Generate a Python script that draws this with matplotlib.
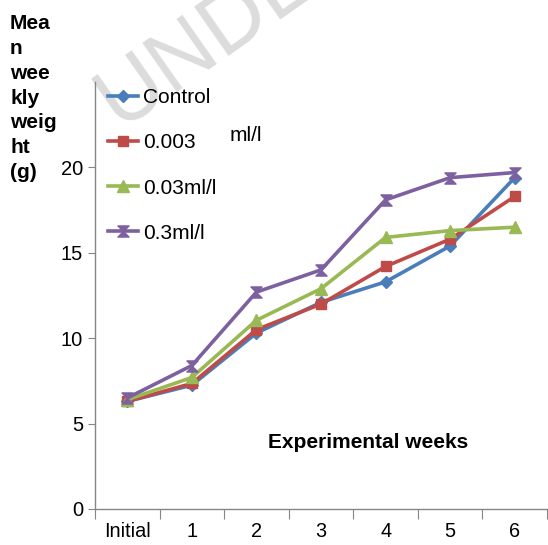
import matplotlib
matplotlib.use("Agg")
import matplotlib.pyplot as plt
from matplotlib.path import Path
import numpy as np

plt.rcParams['font.family'] = ['Liberation Sans', 'DejaVu Sans']

weeks = ["Initial", "1", "2", "3", "4", "5", "6"]
control = [6.3, 7.25, 10.3, 12.1, 13.3, 15.4, 19.4]
dose_0003 = [6.3, 7.35, 10.5, 12.0, 14.2, 15.8, 18.3]
dose_003 = [6.4, 7.7, 11.05, 12.9, 15.9, 16.3, 16.5]
dose_03 = [6.5, 8.4, 12.7, 14.0, 18.1, 19.4, 19.7]
labels = ["Control", "0.003", "0.03ml/l", "0.3ml/l"]
colors = ["#4A7EBB", "#BE4B48", "#98B954", "#7D60A0"]

hourglass = Path([(-1, 1), (1, 1), (0, 0), (1, -1), (-1, -1), (0, 0), (-1, 1)],
                 [Path.MOVETO, Path.LINETO, Path.LINETO, Path.LINETO, Path.LINETO,
                  Path.LINETO, Path.CLOSEPOLY])
markers = ["D", "s", "^", hourglass]
msizes = [6, 7.5, 8, 8]

W, H = 548, 545
fig = plt.figure(figsize=(W / 100, H / 100), dpi=100)

# watermark (behind everything)
fig.text(119 / W, 1 - 128 / H, "UNDER", rotation=35, rotation_mode="anchor",
         fontsize=63, color="#dcdcdc", ha="left", va="baseline", zorder=-5)

ax = fig.add_axes([95 / W, (H - 509) / H, (547 - 95) / W, (509 - 82) / H])
ax.patch.set_alpha(0)

x = np.arange(len(weeks))
series = [control, dose_0003, dose_003, dose_03]
for s, lab, c, m, ms in zip(series, labels, colors, markers, msizes):
    ax.plot(x, s, color=c, lw=2.6, marker=m, markersize=ms, label=lab,
            markerfacecolor=c, markeredgecolor=c, solid_joinstyle="round")

ax.set_xlim(-0.5, 6.5)
ax.set_ylim(0, 25)
ax.set_yticks([0, 5, 10, 15, 20])
ax.set_xticks(np.arange(-0.5, 7, 1))
ax.set_xticklabels([])
ax.set_xticks(x, minor=True)
ax.set_xticklabels(weeks, minor=True)
ax.tick_params(axis="x", which="minor", length=0, pad=9.5, labelsize=14.3)
ax.tick_params(axis="x", which="major", length=7, color="#868686", direction="out")
ax.tick_params(axis="y", length=5, color="#868686", labelsize=14.5, pad=3.5)
for sp in ["top", "right"]:
    ax.spines[sp].set_visible(False)
for sp in ["left", "bottom"]:
    ax.spines[sp].set_color("#868686")
    ax.spines[sp].set_linewidth(1)

leg = ax.legend(loc="upper left", bbox_to_anchor=(108 / W, 1 - 88 / H),
                bbox_transform=fig.transFigure, frameon=False, fontsize=15,
                labelspacing=1.26, handlelength=1.45, handletextpad=0.25,
                borderpad=0, borderaxespad=0)

fig.text(230 / W, 1 - 135 / H, "ml/l", fontsize=15, ha="left", va="center")

fig.text(10 / W, 1 - 14 / H, "Mea\nn\nwee\nkly\nweig\nht\n(g)", fontsize=15,
         fontweight="bold", ha="left", va="top", linespacing=1.39)

fig.text(368 / W, 1 - 443 / H, "Experimental weeks", fontsize=15,
         fontweight="bold", ha="center", va="center")

fig.savefig("out.png", dpi=100)
